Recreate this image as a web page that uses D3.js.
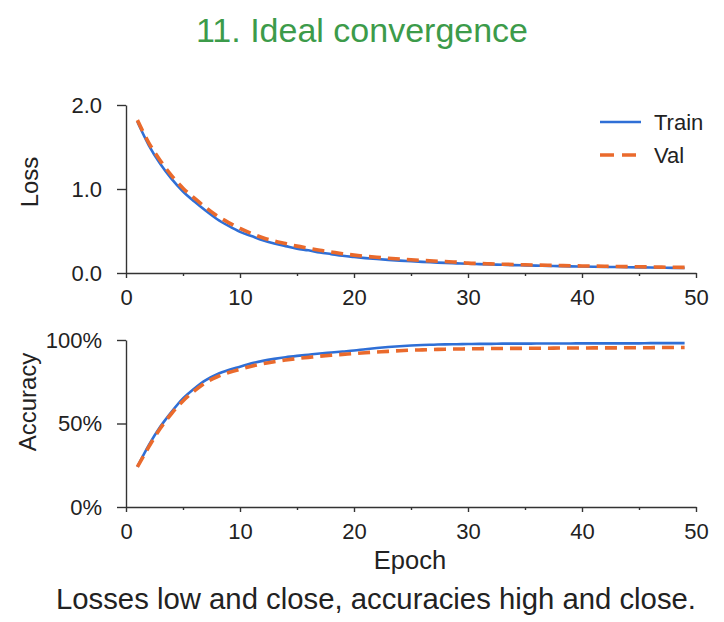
<!DOCTYPE html>
<html lang="en">
<head>
  <meta charset="UTF-8" />
  <title>11. Ideal convergence</title>
  <script src="https://d3js.org/d3.v7.min.js"></script>
  <style>
    body { margin: 0; background: #fff; }
    svg { display: block; font-family: "Liberation Sans", Arial, Helvetica, sans-serif; }
    .axis path, .axis line { stroke: #333; stroke-width: 1.4; }
    .axis text { fill: #222; font-size: 22px; font-family: "Liberation Sans", Arial, sans-serif; }
  </style>
</head>
<body>
  <svg id="chart" width="724" height="622"></svg>

  <script>
    const width = 724;
    const height = 622;

    // epochs 1..49
    const epochs = d3.range(1, 50);

    const trainLoss = [1.80, 1.52, 1.30, 1.12, 0.97, 0.85, 0.74, 0.64, 0.56, 0.49,
      0.44, 0.39, 0.35, 0.32, 0.29, 0.27, 0.245, 0.225, 0.205, 0.19,
      0.177, 0.166, 0.156, 0.147, 0.139, 0.132, 0.126, 0.12, 0.115, 0.11,
      0.106, 0.102, 0.098, 0.094, 0.091, 0.088, 0.085, 0.082, 0.079, 0.077,
      0.075, 0.073, 0.071, 0.069, 0.067, 0.065, 0.063, 0.061, 0.06];

    const valLoss = [1.82, 1.55, 1.34, 1.16, 1.01, 0.89, 0.78, 0.68, 0.60, 0.53,
      0.47, 0.42, 0.38, 0.35, 0.32, 0.295, 0.27, 0.25, 0.23, 0.213,
      0.199, 0.187, 0.176, 0.166, 0.157, 0.149, 0.142, 0.136, 0.13, 0.118,
      0.113, 0.109, 0.105, 0.101, 0.098, 0.095, 0.092, 0.089, 0.086, 0.084,
      0.082, 0.08, 0.078, 0.076, 0.074, 0.072, 0.07, 0.068, 0.067];

    const trainAcc = [0.24, 0.37, 0.48, 0.57, 0.65, 0.71, 0.76, 0.795, 0.82, 0.84,
      0.86, 0.875, 0.887, 0.897, 0.905, 0.912, 0.919, 0.925, 0.931, 0.937,
      0.945, 0.952, 0.958, 0.963, 0.967, 0.97, 0.972, 0.974, 0.975, 0.976,
      0.977, 0.977, 0.978, 0.978, 0.978, 0.979, 0.979, 0.979, 0.979, 0.98,
      0.98, 0.98, 0.98, 0.98, 0.98, 0.981, 0.981, 0.981, 0.981];

    const valAcc = [0.24, 0.36, 0.47, 0.56, 0.635, 0.695, 0.745, 0.78, 0.805, 0.825,
      0.843, 0.858, 0.87, 0.88, 0.889, 0.896, 0.903, 0.909, 0.914, 0.919,
      0.924, 0.928, 0.932, 0.936, 0.939, 0.941, 0.943, 0.945, 0.946, 0.947,
      0.948, 0.949, 0.949, 0.95, 0.95, 0.951, 0.951, 0.952, 0.952, 0.952,
      0.953, 0.953, 0.953, 0.954, 0.954, 0.954, 0.955, 0.955, 0.955];

    const xTicks = [0, 10, 20, 30, 40, 50];
    const xMinorTicks = [5, 15, 25, 35, 45];
    const lossTicks = [0, 1, 2];
    const accTicks = [0, 0.5, 1];
    const seriesNames = ["Train", "Val"];

    const blue = "#2f6fd6";
    const orange = "#ea6a2c";

    const svg = d3.select("#chart");

    const x = d3.scaleLinear().domain([0, 50]).range([126, 696]);
    const yLoss = d3.scaleLinear().domain([0, 2]).range([273, 105]);
    const yAcc = d3.scaleLinear().domain([0, 1]).range([507, 340]);

    function drawPanel(yScale, ticks, fmt, train, val, y0) {
      // minor x ticks
      svg.append("g")
        .attr("class", "axis")
        .attr("transform", `translate(0,${y0})`)
        .call(d3.axisBottom(x).tickValues(xMinorTicks).tickSize(3).tickFormat(""))
        .call(g => g.select(".domain").remove());

      svg.append("g")
        .attr("class", "axis")
        .attr("transform", `translate(0,${y0})`)
        .call(d3.axisBottom(x).tickValues(xTicks).tickSize(5).tickSizeOuter(0).tickPadding(11).tickFormat(d3.format("d")));

      svg.append("g")
        .attr("class", "axis")
        .attr("transform", `translate(${x(0)},0)`)
        .call(d3.axisLeft(yScale).tickValues(ticks).tickSize(9).tickSizeOuter(0).tickPadding(15).tickFormat(fmt));

      const line = d3.line()
        .x((d, i) => x(epochs[i]))
        .y(d => yScale(d))
        .curve(d3.curveMonotoneX);

      svg.append("path")
        .datum(train)
        .attr("fill", "none")
        .attr("stroke", blue)
        .attr("stroke-width", 2.6)
        .attr("d", line);

      svg.append("path")
        .datum(val)
        .attr("fill", "none")
        .attr("stroke", orange)
        .attr("stroke-width", 3.6)
        .attr("stroke-dasharray", "12,7")
        .attr("d", line);
    }

    drawPanel(yLoss, lossTicks, d3.format(".1f"), trainLoss, valLoss, 273);
    drawPanel(yAcc, accTicks, d3.format(".0%"), trainAcc, valAcc, 507);

    // title
    svg.append("text")
      .attr("x", 362).attr("y", 42)
      .attr("text-anchor", "middle")
      .style("font-size", "34px")
      .style("fill", "#3c9b4a")
      .text("11. Ideal convergence");

    // axis labels
    svg.append("text")
      .attr("transform", "translate(38,182) rotate(-90)")
      .attr("text-anchor", "middle")
      .style("font-size", "24px").style("fill", "#222")
      .text("Loss");

    svg.append("text")
      .attr("transform", "translate(36,402) rotate(-90)")
      .attr("text-anchor", "middle")
      .style("font-size", "24px").style("fill", "#222")
      .text("Accuracy");

    svg.append("text")
      .attr("x", 410).attr("y", 569)
      .attr("text-anchor", "middle")
      .style("font-size", "25.5px").style("fill", "#222")
      .text("Epoch");

    svg.append("text")
      .attr("x", 376).attr("y", 609)
      .attr("text-anchor", "middle")
      .style("font-size", "29.3px").style("fill", "#222")
      .text("Losses low and close, accuracies high and close.");

    // legend
    const legend = svg.append("g").attr("transform", "translate(600,122)");
    seriesNames.forEach((name, i) => {
      const g = legend.append("g").attr("transform", `translate(0,${i * 33})`);
      g.append("line")
        .attr("x1", 0).attr("x2", 41)
        .attr("stroke", i === 0 ? blue : orange)
        .attr("stroke-width", i === 0 ? 2.6 : 3.6)
        .attr("stroke-dasharray", i === 0 ? null : "14,8");
      g.append("text")
        .attr("x", 54).attr("y", 8)
        .style("font-size", "22px").style("fill", "#222")
        .text(name);
    });
  </script>
</body>
</html>
